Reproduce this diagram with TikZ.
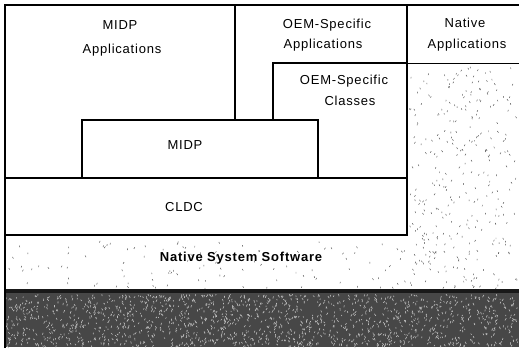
\documentclass[tikz,border=0pt]{standalone}
\usepackage{fontspec}
\setmainfont{Liberation Sans}[LetterSpace=6]
\begin{document}
\begin{tikzpicture}[x=1pt,y=-1pt,
  lbl/.style={inner sep=0pt,font=\fontsize{13}{15}\selectfont},
  bline/.style={line width=1.3pt,line cap=rect},
  speck/.style={black!70,line width=0.45pt}]
\useasboundingbox[fill=white] (0,0) rectangle (519,349);
\pgfmathsetseed{7}
% stipple in native column and native system strip
\foreach \i in {1,...,320}{
  \pgfmathsetmacro\px{409+rnd*108}
  \pgfmathsetmacro\py{66+rnd*222}
  \draw[speck] (\px,\py) -- ++({rnd*2.4-1.2},1.6);
}
\foreach \i in {1,...,110}{
  \pgfmathsetmacro\px{8+rnd*398}
  \pgfmathsetmacro\py{238+rnd*50}
  \draw[speck] (\px,\py) -- ++({rnd*2.4-1.2},1.6);
}
% dark band
\fill[black!72] (5,290) rectangle (519,347);
\fill[black!90] (5,289) rectangle (519,293);
\foreach \i in {1,...,1500}{
  \pgfmathsetmacro\px{6+rnd*512}
  \pgfmathsetmacro\py{294+rnd*52}
  \draw[white!75!black,line width=0.6pt] (\px,\py) -- ++({rnd*3-1.5},{1+rnd*1.5});
}
% outlines
\draw[bline] (5,5) -- (519,5);
\draw[bline] (5,5) -- (5,347);
\draw[bline] (235,5) -- (235,120);
\draw[bline] (82,178) -- (82,120) -- (318,120) -- (318,178);
\draw[bline] (273,120) -- (273,63) -- (407,63);
\draw[bline] (407,5) -- (407,235);
\draw[line width=1pt] (407,63) -- (519,63);
\draw[bline] (5,178) rectangle (407,235);
% labels
\node[lbl] (midpapp1) at (120,25) {MIDP};
\node[lbl] (midpapp2) at (122,50) {Applications};
\node[lbl] (midp) at (185,145) {MIDP};
\node[lbl] (cldc) at (184,207) {CLDC};
\node[lbl] (oemapp1) at (327,25) {OEM-Specific};
\node[lbl] (oemapp2) at (323,45) {Applications};
\node[lbl] (natapp1) at (465,23) {Native};
\node[lbl] (natapp2) at (467,45) {Applications};
\node[lbl] (oemcls1) at (344,81) {OEM-Specific};
\node[lbl] (oemcls2) at (350,101) {Classes};
\node[lbl,font=\fontsize{13}{15}\selectfont\bfseries] (nss) at (241,258) {Native System Software};
\end{tikzpicture}
\end{document}
